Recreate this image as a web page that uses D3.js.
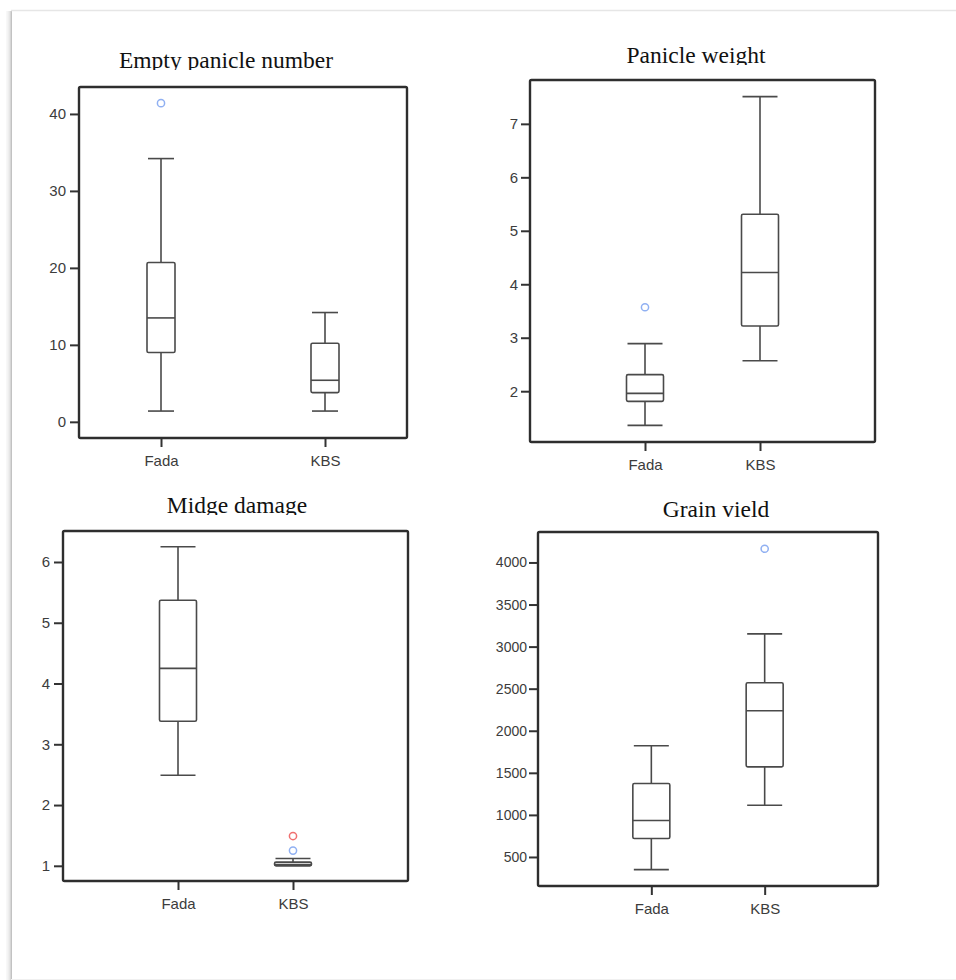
<!DOCTYPE html>
<html>
<head>
<meta charset="utf-8">
<script src="https://cdn.jsdelivr.net/npm/d3@7"></script>
<style>
body { margin: 0; background: #fff; }
svg { display: block; }
</style>
</head>
<body>
<div id="chart"></div>
<script>
var groups = ["Fada", "KBS"];

// five-number summaries per group: [low whisker, Q1, median, Q3, high whisker]
var emptyPanicle = [[1.4, 9.0, 13.5, 20.7, 34.2], [1.4, 3.8, 5.4, 10.2, 14.2]];
var emptyPanicleOut = [[41.4], []];
var emptyPanicleTicks = [0, 10, 20, 30, 40];

var panicleWeight = [[1.36, 1.81, 1.96, 2.31, 2.89], [2.57, 3.22, 4.22, 5.31, 7.51]];
var panicleWeightOut = [[3.57], []];
var panicleWeightTicks = [2, 3, 4, 5, 6, 7];

var midgeDamage = [[2.49, 3.38, 4.25, 5.37, 6.25], [1.0, 1.0, 1.02, 1.06, 1.12]];
var midgeDamageOut = [[], [1.25, 1.49]];
var midgeDamageExtreme = [[], [false, true]];
var midgeDamageTicks = [1, 2, 3, 4, 5, 6];

var grainYield = [[350, 719, 933, 1374, 1821], [1115, 1571, 2238, 2571, 3151]];
var grainYieldOut = [[], [4163]];
var grainYieldTicks = [500, 1000, 1500, 2000, 2500, 3000, 3500, 4000];

var panels = [
  { title: "Empty panicle number", stats: emptyPanicle, out: emptyPanicleOut, ticks: emptyPanicleTicks,
    domain: [-2.1, 43.5], x0: 79, x1: 407, y0: 87, y1: 438, pad: 0.5, boxW: 28,
    titleX: 226, titleY: 68, tickPad: 4 },
  { title: "Panicle weight", stats: panicleWeight, out: panicleWeightOut, ticks: panicleWeightTicks,
    domain: [1.05, 7.82], x0: 530, x1: 875, y0: 80, y1: 442, pad: 1, boxW: 37,
    titleX: 696, titleY: 63, tickPad: 3 },
  { title: "Midge damage", stats: midgeDamage, out: midgeDamageOut, ext: midgeDamageExtreme, ticks: midgeDamageTicks,
    domain: [0.75, 6.51], x0: 63, x1: 408, y0: 531, y1: 881, pad: 1, boxW: 37,
    titleX: 237, titleY: 513, tickPad: 4 },
  { title: "Grain vield", stats: grainYield, out: grainYieldOut, ticks: grainYieldTicks,
    domain: [155, 4362], x0: 538, x1: 878, y0: 532, y1: 886, pad: 1, boxW: 37,
    titleX: 716, titleY: 517, tickPad: 2 }
];

var svg = d3.select("#chart")
            .append("svg")
            .attr("width", 956)
            .attr("height", 980);

// page edge with soft shadow on the left
[[6, 0.05], [7, 0.08], [8, 0.12], [9, 0.18], [10, 0.3], [11, 0.45]].forEach(function(s) {
  svg.append("line")
     .attr("x1", s[0] + 0.5).attr("x2", s[0] + 0.5)
     .attr("y1", 11).attr("y2", 980)
     .attr("stroke", "#777").attr("stroke-opacity", s[1]);
});
svg.append("line").attr("x1", 11).attr("x2", 956).attr("y1", 10.5).attr("y2", 10.5)
   .attr("stroke", "#e6e6e6").attr("stroke-width", 1.5);
svg.append("line").attr("x1", 11).attr("x2", 956).attr("y1", 979.5).attr("y2", 979.5)
   .attr("stroke", "#f0f0f0");

var defs = svg.append("defs");

panels.forEach(function(p, k) {
  var x = d3.scalePoint().domain(groups).range([p.x0, p.x1]).padding(p.pad);
  var y = d3.scaleLinear().domain(p.domain).range([p.y1, p.y0]);
  var g = svg.append("g");

  // title, cut just under its baseline as in the source image
  defs.append("clipPath").attr("id", "tclip" + k)
      .append("rect").attr("x", 0).attr("y", p.titleY - 40).attr("width", 956).attr("height", 42);
  g.append("text")
   .attr("clip-path", "url(#tclip" + k + ")")
   .attr("x", p.titleX).attr("y", p.titleY)
   .attr("text-anchor", "middle")
   .style("font-family", "'Liberation Serif', 'Times New Roman', serif")
   .style("font-size", "23.5px")
   .style("fill", "#111")
   .text(p.title);

  // axes
  var ya = g.append("g")
            .attr("transform", "translate(" + p.x0 + ",0)")
            .call(d3.axisLeft(y).tickValues(p.ticks).tickFormat(d3.format("d"))
                    .tickSize(9).tickPadding(p.tickPad));
  var xa = g.append("g")
            .attr("transform", "translate(0," + p.y1 + ")")
            .call(d3.axisBottom(x).tickSize(9).tickPadding(8));
  [ya, xa].forEach(function(a) {
    a.select(".domain").remove();
    a.selectAll(".tick line").attr("stroke", "#333").attr("stroke-width", 2);
    a.selectAll("text")
     .style("font-family", "'Liberation Sans', Arial, sans-serif")
     .style("fill", "#3c3c3c");
  });
  ya.selectAll("text").style("font-size", k === 3 ? "14px" : "15px");
  xa.selectAll("text").style("font-size", "15px");

  // boxes
  var bw = p.boxW;
  var boxes = g.selectAll(".box")
               .data(p.stats)
               .enter().append("g")
               .attr("class", "box")
               .attr("stroke", "#4a4a4a")
               .attr("stroke-width", 1.6)
               .attr("fill", "none");

  boxes.append("line")
       .attr("x1", function(d, i) { return x(groups[i]); })
       .attr("x2", function(d, i) { return x(groups[i]); })
       .attr("y1", function(d) { return y(d[0]); })
       .attr("y2", function(d) { return y(d[4]); });
  boxes.append("rect")
       .attr("x", function(d, i) { return x(groups[i]) - bw / 2; })
       .attr("y", function(d) { return y(d[3]); })
       .attr("width", bw)
       .attr("height", function(d) { return y(d[1]) - y(d[3]); })
       .attr("rx", 1.5)
       .attr("fill", "#fff");
  boxes.append("line")
       .attr("x1", function(d, i) { return x(groups[i]) - bw / 2; })
       .attr("x2", function(d, i) { return x(groups[i]) + bw / 2; })
       .attr("y1", function(d) { return y(d[2]); })
       .attr("y2", function(d) { return y(d[2]); });
  [0, 4].forEach(function(j) {
    boxes.append("line")
         .attr("x1", function(d, i) { return x(groups[i]) - bw / 2 + 1; })
         .attr("x2", function(d, i) { return x(groups[i]) + bw / 2 - 1; })
         .attr("y1", function(d) { return y(d[j]); })
         .attr("y2", function(d) { return y(d[j]); });
  });

  // outliers
  var pts = [];
  p.out.forEach(function(list, i) {
    list.forEach(function(v, j) {
      pts.push({ g: groups[i], v: v, far: p.ext ? p.ext[i][j] : false });
    });
  });
  g.selectAll(".out")
   .data(pts)
   .enter().append("circle")
   .attr("cx", function(d) { return x(d.g); })
   .attr("cy", function(d) { return y(d.v); })
   .attr("r", 3.6)
   .attr("fill", "none")
   .attr("stroke-width", 1.5)
   .attr("stroke", function(d) { return d.far ? "#f07070" : "#90b0f2"; });

  // frame
  g.append("rect")
   .attr("x", p.x0).attr("y", p.y0)
   .attr("width", p.x1 - p.x0).attr("height", p.y1 - p.y0)
   .attr("rx", 1.5)
   .attr("fill", "none")
   .attr("stroke", "#2e2e2e")
   .attr("stroke-width", 2.4);
});
</script>
</body>
</html>
